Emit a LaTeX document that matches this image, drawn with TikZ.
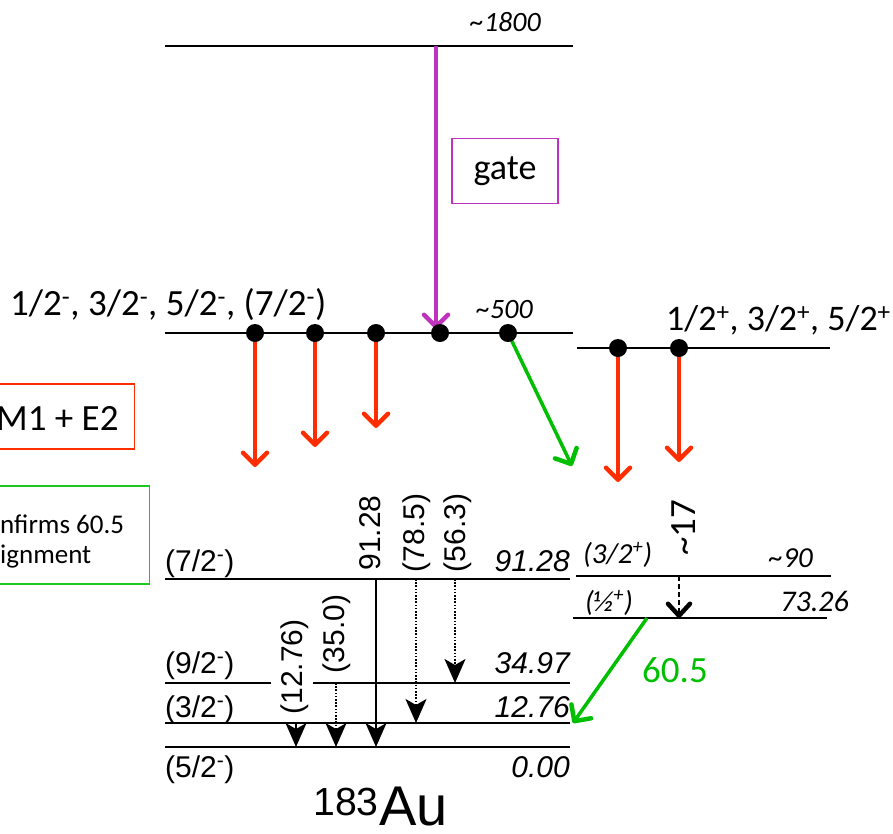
\documentclass[tikz,border=0pt]{standalone}
\usepackage{fontspec}
\setmainfont{Carlito}
\newfontfamily\arialf{Liberation Sans}
\usetikzlibrary{arrows.meta}
\definecolor{redA}{RGB}{255,45,0}
\definecolor{greenA}{RGB}{0,190,0}
\definecolor{greenB}{RGB}{30,200,30}
\definecolor{purpA}{RGB}{190,50,190}
\newcommand{\fs}[1]{\fontsize{#1}{#1}\selectfont}
\newcommand{\sm}{\textsuperscript{-}}
\newcommand{\spl}{\textsuperscript{+}}
\begin{document}
\begin{tikzpicture}[x=1pt,y=-1pt,
  lvl/.style={line width=2pt},
  dotn/.style={circle,fill=black,inner sep=0pt,minimum size=18pt},
  barb/.style={-{Straight Barb[length=12pt,width=24pt,line width=4.5pt,round]}},
  redarr/.style={barb,redA,line width=3.5pt},
  greenarr/.style={barb,greenA,line width=3.5pt},
  purparr/.style={barb,purpA,line width=3.5pt},
  blkarr/.style={line width=2pt,-{Stealth[length=24pt,width=21pt,inset=6pt]}},
  dotl/.style={dash pattern=on 1.6pt off 1.6pt},
  lab/.style={inner sep=0pt,font=\fs{37}},
  lab2/.style={inner sep=0pt,font=\fs{28}\itshape},
  alab/.style={inner sep=0pt,font=\arialf\fs{30}},
  alabi/.style={inner sep=0pt,font=\arialf\itshape\fs{30}},
  clab/.style={inner sep=0pt,font=\itshape\fs{29}}
]
\useasboundingbox (0,0) rectangle (893,833);

% ---- upper part ----
\coordinate (t1) at (165,46); \coordinate (t2) at (573,46);
\draw[lvl] (t1) -- (t2);
\node[lab2,anchor=base east] (e1800) at (541,31) {\textasciitilde1800};

\coordinate (a1) at (165,333); \coordinate (a2) at (573,333);
\draw[lvl] (a1) -- (a2);
\node[lab2,anchor=base east] (e500) at (533,318) {\textasciitilde500};
\node[lab,anchor=base west] (spinneg) at (10,315) {1/2\sm, 3/2\sm, 5/2\sm, (7/2\sm)};

\coordinate (b1) at (577,348); \coordinate (b2) at (830,348);
\draw[lvl] (b1) -- (b2);
\node[lab,font=\fs{36},anchor=base west] (spinpos) at (666,330) {1/2\spl, 3/2\spl, 5/2\spl};

% gate
\coordinate (g0) at (436,46); \coordinate (g1) at (436,329);
\draw[purparr] (g0) -- (g1);
\node[draw=purpA,line width=1.4pt,minimum width=106pt,minimum height=65pt,inner sep=0pt,font=\fs{36}] (gate) at (505,171) {gate};

% dots
\coordinate (c1) at (255,333); \coordinate (c2) at (315,333); \coordinate (c3) at (376,333);
\coordinate (c5) at (508,333); \coordinate (c6) at (618,348); \coordinate (c7) at (679,348);
\coordinate (r1) at (255,467); \coordinate (r2) at (315,447); \coordinate (r3) at (376,428);
\coordinate (r6) at (618,482); \coordinate (r7) at (679,462);
\coordinate (gr1) at (572,466);
\draw[redarr] (c1) -- (r1);
\draw[redarr] (c2) -- (r2);
\draw[redarr] (c3) -- (r3);
\draw[redarr] (c6) -- (r6);
\draw[redarr] (c7) -- (r7);
\draw[greenarr] (c5) -- (gr1);
\node[dotn] (d1) at (c1) {};
\node[dotn] (d2) at (c2) {};
\node[dotn] (d3) at (c3) {};
\node[dotn] (d4) at (440,333) {};
\node[dotn] (d5) at (c5) {};
\node[dotn] (d6) at (c6) {};
\node[dotn] (d7) at (c7) {};

% side boxes
\node[draw=redA,line width=1.5pt,minimum width=165pt,minimum height=65pt,inner sep=0pt,anchor=north east] (m1box) at (135,383) {};
\node[lab,anchor=base west] (m1) at (-4,430) {M1 + E2};
\node[draw=greenB,line width=1.5pt,minimum width=170pt,minimum height=98pt,inner sep=0pt,anchor=north east] (cbox) at (150,485) {};
\node[inner sep=0pt,font=\fs{27},anchor=base west] (cf1) at (0,533) {nfirms 60.5};
\node[inner sep=0pt,font=\fs{27},anchor=base west] (cf2) at (0,563) {ignment};

% ---- lower part ----
\coordinate (l91a) at (165,579); \coordinate (l91b) at (570,579);
\coordinate (l35a) at (165,683); \coordinate (l35b) at (271,683);
\coordinate (l35c) at (313,683); \coordinate (l35d) at (570,683);
\coordinate (l13a) at (165,723); \coordinate (l13b) at (570,723);
\coordinate (l0a) at (165,747); \coordinate (l0b) at (570,747);
\draw[lvl] (l91a) -- (l91b);
\draw[lvl] (l35a) -- (l35b);
\draw[lvl] (l35c) -- (l35d);
\draw[lvl] (l13a) -- (l13b);
\draw[lvl] (l0a) -- (l0b);

\node[alab,anchor=base west] (s72) at (165,571) {(7/2\sm)};
\node[alab,anchor=base west] (s92) at (165,673) {(9/2\sm)};
\node[alab,anchor=base west] (s32) at (165,717) {(3/2\sm)};
\node[alab,anchor=base west] (s52) at (165,777) {(5/2\sm)};
\node[alabi,anchor=base east] (e91) at (570,571) {91.28};
\node[alabi,anchor=base east] (e35) at (570,673) {34.97};
\node[alabi,anchor=base east] (e13) at (570,717) {12.76};
\node[alabi,anchor=base east] (e0) at (570,777) {0.00};

% transitions
\coordinate (x91a) at (376,579); \coordinate (x91b) at (376,747);
\coordinate (x78a) at (416,579); \coordinate (x78b) at (416,723);
\coordinate (x56a) at (455,579); \coordinate (x56b) at (455,683);
\coordinate (x35a) at (336,683); \coordinate (x35b) at (336,747);
\coordinate (x12a) at (296,723); \coordinate (x12b) at (296,747);
\draw[blkarr] (x91a) -- (x91b);
\draw[blkarr,dotl] (x78a) -- (x78b);
\draw[blkarr,dotl] (x56a) -- (x56b);
\draw[blkarr,dotl] (x35a) -- (x35b);
\draw[blkarr] (x12a) -- (x12b);
\node[alab,rotate=90] (g91) at (370,533) {91.28};
\node[alab,rotate=90] (g78) at (417,533) {(78.5)};
\node[alab,rotate=90] (g56) at (458,533) {(56.3)};
\node[alab,rotate=90] (g12) at (295,667) {(12.76)};
\node[alab,rotate=90] (g35) at (337,634) {(35.0)};

\node[inner sep=0pt,font=\arialf\fs{56},anchor=base west] (au) at (313,825) {\textsuperscript{183}Au};

% right lower
\coordinate (p90a) at (576,576); \coordinate (p90b) at (831,576);
\coordinate (p73a) at (573,618); \coordinate (p73b) at (827,618);
\draw[lvl] (p90a) -- (p90b);
\draw[lvl] (p73a) -- (p73b);
\node[clab,anchor=base west] (s32p) at (583,563) {(3/2\spl)};
\node[clab,anchor=base east] (e90) at (813,567) {\textasciitilde90};
\node[clab,anchor=base west] (s12p) at (585,611) {(½\spl)};
\node[inner sep=0pt,font=\itshape\fs{30},anchor=base east] (e73) at (849,611) {73.26};
\coordinate (y17a) at (679,576); \coordinate (y17b) at (679,618);
\draw[line width=2.5pt,dash pattern=on 5pt off 3pt,-{Straight Barb[length=12pt,width=22pt,line width=4.5pt,round]}] (y17a) -- (y17b);
\node[lab,rotate=90] (g17) at (684,528) {\textasciitilde17};
\coordinate (z1) at (647,618); \coordinate (z2) at (573,723);
\draw[greenarr] (z1) -- (z2);
\node[lab,anchor=base west,text=greenA] (g605) at (642,682) {60.5};
\end{tikzpicture}
\end{document}
